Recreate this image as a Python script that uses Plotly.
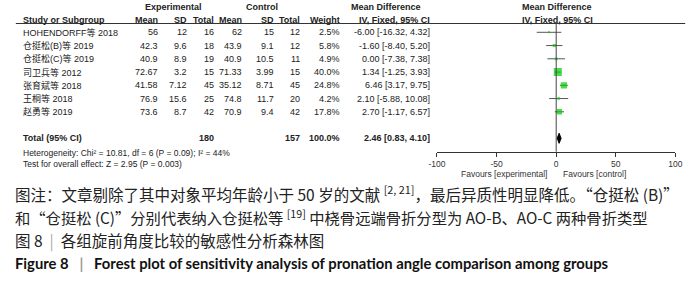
import plotly.graph_objects as go

W, H = 700, 285

studies = ["HOHENDORFF等 2018", "仓挺松(B)等 2019", "仓挺松(C)等 2019", "司卫兵等 2012",
           "张育斌等 2018", "王桐等 2018", "赵勇等 2019"]
exp_mean = [56, 42.3, 40.9, 72.67, 41.58, 76.9, 73.6]
exp_sd = [12, 9.6, 8.9, 3.2, 7.12, 15.6, 8.7]
exp_n = [16, 18, 19, 15, 45, 25, 42]
ctl_mean = [62, 43.9, 40.9, 71.33, 35.12, 74.8, 70.9]
ctl_sd = [15, 9.1, 10.5, 3.99, 8.71, 11.7, 9.4]
ctl_n = [12, 12, 11, 15, 45, 20, 42]
weight = [2.5, 5.8, 4.9, 40.0, 24.8, 4.2, 17.8]
md = [-6.00, -1.60, 0.00, 1.34, 6.46, 2.10, 2.70]
md_lo = [-16.32, -8.40, -7.38, -1.25, 3.17, -5.88, -1.17]
md_hi = [4.32, 5.20, 7.38, 3.93, 9.75, 10.08, 6.57]

total_exp_n = 180
total_ctl_n = 157
total_weight = 100.0
total_md = 2.46
total_lo = 0.83
total_hi = 4.10

heterogeneity = "Heterogeneity: Chi² = 10.81, df = 6 (P = 0.09); I² = 44%"
overall = "Test for overall effect: Z = 2.95 (P = 0.003)"
tick_vals = [-100, -50, 0, 50, 100]
tick_text = ["-100", "-50", "0", "50", "100"]
fav_left = "Favours [experimental]"
fav_right = "Favours [control]"

NB = "\u00a0"
caption1 = "图注：文章剔除了其中对象平均年龄小于 50 岁的文献 <sup>[2, 21]</sup>，最后异质性明显降低。“仓挺松 (B)”"
caption2 = "和“仓挺松 (C)”分别代表纳入仓挺松等 <sup>[19]</sup> 中桡骨远端骨折分型为 AO-B、AO-C 两种骨折类型"
caption3 = "图 8" + NB * 2 + "<span style='color:#aaa'>|</span>" + NB * 2 + "各组旋前角度比较的敏感性分析森林图"
caption4 = ("<b>Figure 8" + NB * 3 + "<span style='color:#999'>|</span>" + NB * 3 +
            "Forest plot of sensitivity analysis of pronation angle comparison among groups</b>")

# pixel geometry helpers
ROW0 = 32.3      # pixel y of first study row
ROWH = 13.25     # pixel per row
def row_of(py):
    return (py - ROW0) / ROWH
def px(x):
    return x / W

TXT = "Liberation Sans, Arial, Noto Sans CJK SC, sans-serif"
CJK = "Noto Sans CJK SC, sans-serif"
TC = "#222"
FS = 9

n = len(studies)
rows = list(range(n))
total_row = n + 1

fig = go.Figure()

# CI lines
lx, ly = [], []
for i in rows:
    lx += [md_lo[i], md_hi[i], None]
    ly += [i, i, None]
fig.add_trace(go.Scatter(x=lx, y=ly, mode="lines", line=dict(color="#555", width=1),
                         hoverinfo="skip", showlegend=False))
# squares
fig.add_trace(go.Scatter(x=md, y=rows, mode="markers",
                         marker=dict(symbol="square", color="#00cc00",
                                     size=[max(2, 1.27 * w ** 0.5) for w in weight],
                                     line=dict(width=0)),
                         showlegend=False))
# diamond
dh = 0.38
fig.add_trace(go.Scatter(x=[total_lo, total_md, total_hi, total_md, total_lo],
                         y=[total_row, total_row - dh, total_row, total_row + dh, total_row],
                         mode="lines", fill="toself", fillcolor="#000",
                         line=dict(color="#000", width=1), showlegend=False))

axis_px = 151.7
fig.add_shape(type="line", xref="x", yref="y", x0=0, x1=0, y0=row_of(23), y1=row_of(axis_px),
              line=dict(color="#444", width=1))
fig.add_shape(type="line", xref="paper", yref="y", x0=px(7), x1=px(692), y0=row_of(23.5), y1=row_of(23.5),
              line=dict(color="#333", width=1))

ann = []
def A(text, x, y, xanchor="left", size=FS, bold=False, family=TXT, color=TC, xref="paper", yref="y", xshift=0):
    if bold:
        text = "<b>" + text + "</b>"
    ann.append(dict(text=text, x=x, y=y, xref=xref, yref=yref, xanchor=xanchor, yanchor="middle",
                    showarrow=False, font=dict(size=size, family=family, color=color), xshift=xshift))

fmt = lambda v: f"{v:g}"
cols_right = [155, 184, 212, 241, 273, 300, 341, 433]

# headers
hr1 = row_of(7)
hr2 = row_of(19.5)
A("Experimental", px(168), hr1, "center", bold=True)
A("Control", px(259), hr1, "center", bold=True)
A("Mean Difference", px(386), hr1, "center", bold=True)
A("Mean Difference", px(561), hr1, "center", bold=True)
A("Study or Subgroup", px(12), hr2, bold=True)
for lab, xr in zip(["Mean", "SD", "Total", "Mean", "SD", "Total", "Weight", "IV, Fixed, 95% CI"], cols_right):
    A(lab, px(xr), hr2, "right", bold=True)
A("IV, Fixed, 95% CI", px(561), hr2, "center", bold=True)

for i in rows:
    A(studies[i], px(12), i)
    vals = [fmt(exp_mean[i]), fmt(exp_sd[i]), str(exp_n[i]), fmt(ctl_mean[i]), fmt(ctl_sd[i]),
            str(ctl_n[i]), f"{weight[i]:.1f}%", f"{md[i]:.2f} [{md_lo[i]:.2f}, {md_hi[i]:.2f}]"]
    for v, xr in zip(vals, cols_right):
        A(v, px(xr), i, "right")

A("Total (95% CI)", px(12), total_row, bold=True)
A(str(total_exp_n), px(212), total_row, "right", bold=True)
A(str(total_ctl_n), px(300), total_row, "right", bold=True)
A(f"{total_weight:.1f}%", px(341), total_row, "right", bold=True)
A(f"{total_md:.2f} [{total_lo:.2f}, {total_hi:.2f}]", px(433), total_row, "right", bold=True)
A(heterogeneity, px(12), row_of(153), size=8.5)
A(overall, px(12), row_of(164), size=8.5)

A(fav_left, 0, row_of(173.5), "right", size=8.5, xref="x", xshift=-7, color="#333")
A(fav_right, 0, row_of(173.5), "left", size=8.5, xref="x", xshift=5, color="#333")

def cap(text, py, size, family=CJK, color="#222"):
    ann.append(dict(text=text, x=px(4), y=1 - py / H, xref="paper", yref="paper", xanchor="left",
                    yanchor="middle", showarrow=False, font=dict(size=size, family=family, color=color)))

cap(caption1, 193, 15.5)
cap(caption2, 217, 15.3)
cap(caption3, 240, 15.5)
cap(caption4, 263, 14.8, family="Lato, Noto Sans CJK SC, sans-serif", color="#111")

fig.update_layout(
    width=W, height=H, autosize=False,
    margin=dict(l=0, r=0, t=0, b=0),
    paper_bgcolor="white", plot_bgcolor="white",
    showlegend=False, annotations=ann,
    xaxis=dict(domain=[438 / W, 682 / W], range=[-100, 100], anchor="free", position=1 - axis_px / H,
               tickvals=tick_vals, ticktext=tick_text, showline=True, linecolor="#333", linewidth=1,
               ticks="outside", ticklen=4, tickcolor="#333", tickwidth=1, showgrid=False, zeroline=False,
               tickfont=dict(size=8.5, family=TXT, color="#333"), fixedrange=True),
    yaxis=dict(domain=[0, 1], range=[row_of(H), row_of(0)], visible=False, fixedrange=True),
)

fig.write_html("out.html", config=dict(displayModeBar=False, staticPlot=True),
               post_script="document.body.style.margin='0';document.body.style.padding='0';")
